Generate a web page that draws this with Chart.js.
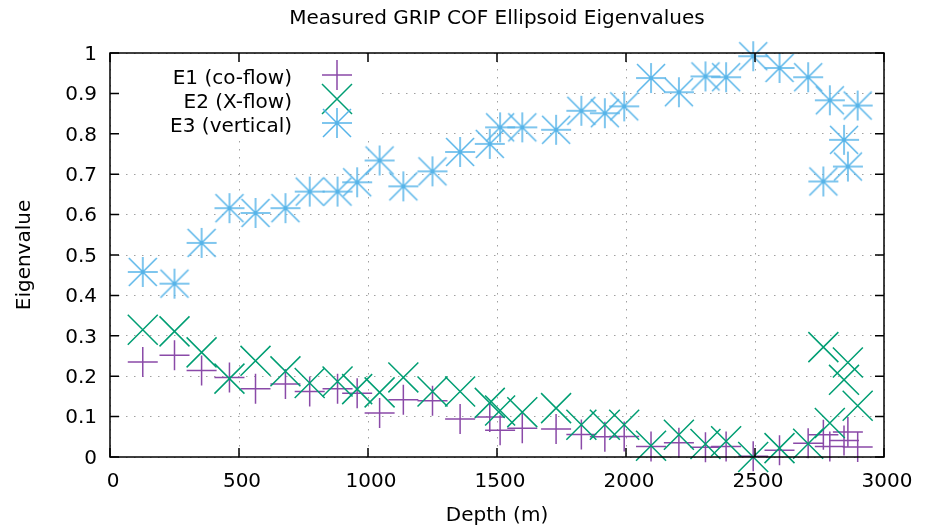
<!DOCTYPE html>
<html>
<head>
<meta charset="utf-8">
<title>Measured GRIP COF Ellipsoid Eigenvalues</title>
<script src="https://cdn.jsdelivr.net/npm/chart.js@4/dist/chart.umd.min.js"></script>
<style>
  html, body { margin: 0; padding: 0; background: #fff; }
  #wrap { width: 928px; height: 529px; }
</style>
</head>
<body>
<div id="wrap"><canvas id="chart" width="928" height="529"></canvas></div>
<script>
// sample depths (m), shared by the three eigenvalues
const depth = [127, 250, 355, 463, 564, 680, 774, 882, 958, 1045, 1137, 1250, 1357, 1472, 1512, 1598,
  1729, 1827, 1918, 1993, 2097, 2205, 2308, 2388, 2493, 2595, 2706, 2765, 2790, 2845, 2860, 2898];

const e1CoFlow = [0.235, 0.252, 0.214, 0.197, 0.169, 0.181, 0.162, 0.169, 0.158, 0.109, 0.142, 0.139,
  0.094, 0.099, 0.066, 0.071, 0.069, 0.056, 0.050, 0.051, 0.026, 0.035, 0.024, 0.026, 0.002, 0.017,
  0.034, 0.055, 0.026, 0.041, 0.062, 0.025];

const e2XFlow = [0.315, 0.311, 0.259, 0.194, 0.238, 0.212, 0.183, 0.187, 0.168, 0.160, 0.197, 0.162,
  0.162, 0.134, 0.115, 0.111, 0.121, 0.080, 0.080, 0.080, 0.028, 0.055, 0.032, 0.039, 0.000, 0.022,
  0.033, 0.272, 0.084, 0.191, 0.234, 0.127];

const e3Vertical = [0.458, 0.429, 0.530, 0.616, 0.604, 0.616, 0.657, 0.657, 0.680, 0.734, 0.670, 0.707,
  0.755, 0.775, 0.816, 0.816, 0.810, 0.857, 0.851, 0.868, 0.938, 0.903, 0.942, 0.940, 0.992, 0.963,
  0.940, 0.682, 0.883, 0.785, 0.719, 0.870];

const seriesLabels = ['E1 (co-flow)', 'E2 (X-flow)', 'E3 (vertical)'];
const seriesColors = ['#8a4aa8', '#009e73', '#56b4e9'];

Chart.defaults.font.family = "'DejaVu Sans', sans-serif";
Chart.defaults.font.size = 20;
Chart.defaults.color = '#000';

const toPoints = values => values.map((v, i) => ({x: depth[i], y: v}));

// gnuplot's point type 3: a plus and an x in the same box
const makeAsterisk = color => {
  const c = document.createElement('canvas');
  c.width = 32;
  c.height = 32;
  const g = c.getContext('2d');
  g.strokeStyle = color;
  g.lineWidth = 1.5;
  g.beginPath();
  g.moveTo(1, 16); g.lineTo(31, 16);
  g.moveTo(16, 1); g.lineTo(16, 31);
  g.moveTo(2, 2); g.lineTo(30, 30);
  g.moveTo(30, 2); g.lineTo(2, 30);
  g.stroke();
  return c;
};
const asterisk = makeAsterisk(seriesColors[2]);

const drawKeyMarker = (ctx, kind, color, x, y) => {
  ctx.save();
  ctx.strokeStyle = color;
  ctx.lineWidth = 1.5;
  ctx.beginPath();
  if (kind === 'plus') {
    ctx.moveTo(x - 15, y); ctx.lineTo(x + 15, y);
    ctx.moveTo(x, y - 15); ctx.lineTo(x, y + 15);
    ctx.stroke();
  } else if (kind === 'x') {
    ctx.moveTo(x - 15, y - 15); ctx.lineTo(x + 15, y + 15);
    ctx.moveTo(x + 15, y - 15); ctx.lineTo(x - 15, y + 15);
    ctx.stroke();
  } else {
    ctx.drawImage(asterisk, x - 16, y - 16);
  }
  ctx.restore();
};

const gnuplotFrame = {
  id: 'gnuplotFrame',
  beforeDatasetsDraw(chart) {
    // opaque key box hides the grid behind the key
    const {ctx, chartArea: a} = chart;
    ctx.save();
    ctx.fillStyle = '#fff';
    ctx.fillRect(a.left + 1, a.top + 1, 378 - a.left, 134 - a.top);
    ctx.restore();
  },
  afterDatasetsDraw(chart) {
    const {ctx, chartArea: a, scales} = chart;
    ctx.save();
    ctx.strokeStyle = '#000';
    ctx.lineWidth = 1.5;
    ctx.strokeRect(a.left, a.top, a.right - a.left, a.bottom - a.top);
    // inward ticks, mirrored on all four sides
    ctx.beginPath();
    scales.x.ticks.forEach(t => {
      const px = scales.x.getPixelForValue(t.value);
      ctx.moveTo(px, a.bottom); ctx.lineTo(px, a.bottom - 9);
      ctx.moveTo(px, a.top); ctx.lineTo(px, a.top + 9);
    });
    scales.y.ticks.forEach(t => {
      const py = scales.y.getPixelForValue(t.value);
      ctx.moveTo(a.left, py); ctx.lineTo(a.left + 9, py);
      ctx.moveTo(a.right, py); ctx.lineTo(a.right - 9, py);
    });
    ctx.stroke();

    // key
    ctx.font = "20px 'DejaVu Sans', sans-serif";
    ctx.fillStyle = '#000';
    ctx.textAlign = 'right';
    ctx.textBaseline = 'alphabetic';
    const kinds = ['plus', 'x', 'star'];
    seriesLabels.forEach((label, i) => {
      const base = 83.5 + i * 24;
      ctx.fillText(label, 292, base);
      drawKeyMarker(ctx, kinds[i], seriesColors[i], 337, base - 8.5);
    });
    ctx.restore();
  }
};

new Chart(document.getElementById('chart'), {
  type: 'scatter',
  data: {
    datasets: [
      {
        label: seriesLabels[0],
        data: toPoints(e1CoFlow),
        pointStyle: 'cross',
        pointRadius: 15,
        pointBorderColor: seriesColors[0],
        pointBackgroundColor: seriesColors[0],
        pointBorderWidth: 1.5,
        order: 3,
        clip: false
      },
      {
        label: seriesLabels[1],
        data: toPoints(e2XFlow),
        pointStyle: 'crossRot',
        pointRadius: 21.2,
        pointBorderColor: seriesColors[1],
        pointBackgroundColor: seriesColors[1],
        pointBorderWidth: 1.5,
        order: 2,
        clip: false
      },
      {
        label: seriesLabels[2],
        data: toPoints(e3Vertical),
        pointStyle: asterisk,
        pointRadius: 15,
        pointBorderColor: seriesColors[2],
        pointBackgroundColor: seriesColors[2],
        pointBorderWidth: 1.5,
        order: 1,
        clip: false
      }
    ]
  },
  options: {
    responsive: false,
    animation: false,
    events: [],
    layout: {padding: {left: 0, right: 44, top: 0, bottom: 0}},
    plugins: {
      legend: {display: false},
      tooltip: {enabled: false},
      title: {
        display: true,
        fullSize: false,
        text: 'Measured GRIP COF Ellipsoid Eigenvalues',
        color: '#000',
        font: {size: 20, weight: 'normal', lineHeight: 1.2},
        padding: {top: 7, bottom: 22}
      }
    },
    scales: {
      x: {
        type: 'linear',
        min: 0,
        max: 3000,
        afterFit: s => { s.height = 72; },
        ticks: {
          stepSize: 500,
          padding: 12.5,
          labelOffset: 3,
          maxRotation: 0,
          autoSkip: false,
          callback: v => String(v)
        },
        grid: {color: '#a0a0a0', lineWidth: 1, drawTicks: false},
        border: {display: false, dash: [1.5, 6.5]},
        title: {display: true, text: 'Depth (m)', font: {size: 20, lineHeight: 1.2}, padding: {top: 0, bottom: 1}}
      },
      y: {
        type: 'linear',
        min: 0,
        max: 1,
        afterFit: s => { s.width = 110; },
        ticks: {stepSize: 0.1, padding: 13, labelOffset: 1.5, callback: v => String(Math.round(v * 10) / 10)},
        grid: {color: '#a0a0a0', lineWidth: 1, drawTicks: false},
        border: {display: false, dash: [1.5, 6.5]},
        title: {display: true, text: 'Eigenvalue', font: {size: 20, lineHeight: 1.2}, padding: {top: 12.5, bottom: 0}}
      }
    }
  },
  plugins: [gnuplotFrame]
});
</script>
</body>
</html>
